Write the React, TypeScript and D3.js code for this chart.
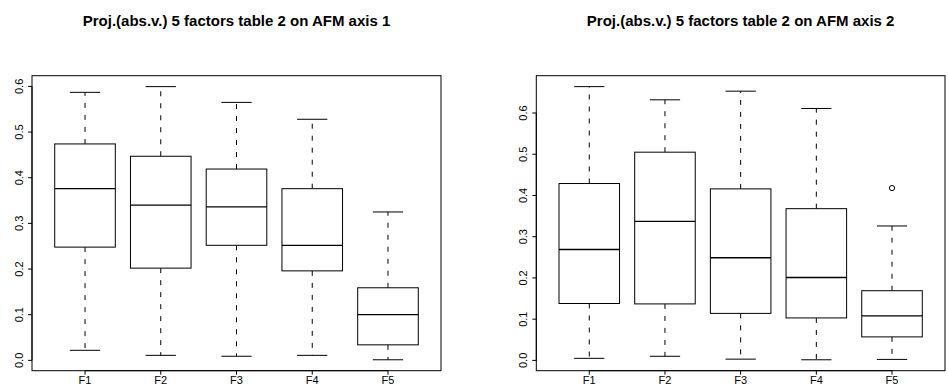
import React, { useEffect, useRef } from 'react';
import * as d3 from 'd3';

// categories (factors)
const factors = ['F1', 'F2', 'F3', 'F4', 'F5'];

// axis 1 : box statistics
const ax1Lower = [0.022, 0.011, 0.009, 0.011, 0.0013];
const ax1Q1 = [0.248, 0.202, 0.252, 0.196, 0.034];
const ax1Median = [0.376, 0.340, 0.336, 0.252, 0.100];
const ax1Q3 = [0.474, 0.447, 0.419, 0.376, 0.159];
const ax1Upper = [0.587, 0.5995, 0.565, 0.528, 0.325];
const ax1Outliers: [number, number][] = [];

// axis 2
const ax2Lower = [0.005, 0.010, 0.003, 0.0015, 0.0024];
const ax2Q1 = [0.138, 0.137, 0.114, 0.103, 0.057];
const ax2Median = [0.269, 0.337, 0.249, 0.201, 0.108];
const ax2Q3 = [0.429, 0.505, 0.416, 0.368, 0.169];
const ax2Upper = [0.664, 0.632, 0.653, 0.611, 0.326];
const ax2Outliers: [number, number][] = [[4, 0.418]];

const yTicks = [0, 0.1, 0.2, 0.3, 0.4, 0.5, 0.6];
const yTickLabels = ['0.0', '0.1', '0.2', '0.3', '0.4', '0.5', '0.6'];

const titles = [
  'Proj.(abs.v.) 5 factors table 2 on AFM axis 1',
  'Proj.(abs.v.) 5 factors table 2 on AFM axis 2',
];

const FONT = '"Liberation Sans", Arial, Helvetica, sans-serif';

function drawPanel(svg, opts) {
  const { left, right, top, bottom, lower, q1, median, q3, upper, outliers, title } = opts;

  // R style ranges: 4% extension on each side
  const all = lower.concat(upper, outliers.map(o => o[1]));
  const lo = d3.min(all), hi = d3.max(all);
  const ext = (hi - lo) * 0.04;
  const y = d3.scaleLinear().domain([lo - ext, hi + ext]).range([bottom, top]);
  const n = factors.length;
  const x = d3.scaleLinear().domain([0.5 - n * 0.04, n + 0.5 + n * 0.04]).range([left, right]);

  const g = svg.append('g');
  const bw = x(1.4) - x(0.6); // boxwex 0.8
  const staple = bw / 2;

  factors.forEach((f, i) => {
    const cx = x(i + 1);
    const b = g.append('g');
    // whiskers
    b.append('line').attr('x1', cx).attr('x2', cx).attr('y1', y(q3[i])).attr('y2', y(upper[i]))
      .attr('stroke', '#000').attr('stroke-dasharray', '5,7');
    b.append('line').attr('x1', cx).attr('x2', cx).attr('y1', y(q1[i])).attr('y2', y(lower[i]))
      .attr('stroke', '#000').attr('stroke-dasharray', '5,7');
    // staples
    b.append('line').attr('x1', cx - staple / 2).attr('x2', cx + staple / 2)
      .attr('y1', y(upper[i])).attr('y2', y(upper[i])).attr('stroke', '#000');
    b.append('line').attr('x1', cx - staple / 2).attr('x2', cx + staple / 2)
      .attr('y1', y(lower[i])).attr('y2', y(lower[i])).attr('stroke', '#000');
    // box
    b.append('rect').attr('x', cx - bw / 2).attr('y', y(q3[i]))
      .attr('width', bw).attr('height', y(q1[i]) - y(q3[i]))
      .attr('fill', 'white').attr('stroke', '#000');
    b.append('line').attr('x1', cx - bw / 2).attr('x2', cx + bw / 2)
      .attr('y1', y(median[i])).attr('y2', y(median[i])).attr('stroke', '#000').attr('stroke-width', 1.3);
  });

  g.selectAll('circle.out').data(outliers).enter().append('circle')
    .attr('class', 'out')
    .attr('cx', d => x(d[0] + 1)).attr('cy', d => y(d[1])).attr('r', 2.6)
    .attr('fill', 'none').attr('stroke', '#000');

  // frame
  g.append('rect').attr('x', left).attr('y', top).attr('width', right - left).attr('height', bottom - top)
    .attr('fill', 'none').attr('stroke', '#000');

  // y axis
  g.append('line').attr('x1', left).attr('x2', left).attr('y1', y(yTicks[0])).attr('y2', y(yTicks[yTicks.length - 1]))
    .attr('stroke', '#000');
  yTicks.forEach((t, i) => {
    g.append('line').attr('x1', left - 4).attr('x2', left).attr('y1', y(t)).attr('y2', y(t)).attr('stroke', '#000');
    g.append('text')
      .attr('transform', `translate(${left - 9},${y(t)}) rotate(-90)`)
      .attr('text-anchor', 'middle')
      .style('font-family', FONT).style('font-size', '11px').style('fill', '#000')
      .text(yTickLabels[i]);
  });

  // x axis
  g.append('line').attr('x1', x(1)).attr('x2', x(n)).attr('y1', bottom).attr('y2', bottom).attr('stroke', '#000');
  factors.forEach((f, i) => {
    g.append('line').attr('x1', x(i + 1)).attr('x2', x(i + 1)).attr('y1', bottom).attr('y2', bottom + 4).attr('stroke', '#000');
    g.append('text').attr('x', x(i + 1)).attr('y', bottom + 13.5)
      .attr('text-anchor', 'middle')
      .style('font-family', FONT).style('font-size', '11px').style('fill', '#000')
      .text(f);
  });

  // title
  g.append('text').attr('x', (left + right) / 2).attr('y', 26)
    .attr('text-anchor', 'middle')
    .style('font-family', FONT).style('font-size', '15px').style('font-weight', 'bold').style('fill', '#000')
    .text(title);
}

export default function App() {
  const ref = useRef(null);

  useEffect(() => {
    const svg = d3.select(ref.current);
    svg.selectAll('*').remove();

    drawPanel(svg, {
      left: 32, right: 441, top: 75.7, bottom: 370.7,
      lower: ax1Lower, q1: ax1Q1, median: ax1Median, q3: ax1Q3, upper: ax1Upper,
      outliers: ax1Outliers, title: titles[0],
    });
    drawPanel(svg, {
      left: 536.3, right: 945, top: 75.7, bottom: 370.7,
      lower: ax2Lower, q1: ax2Q1, median: ax2Median, q3: ax2Q3, upper: ax2Upper,
      outliers: ax2Outliers, title: titles[1],
    });
  }, []);

  return (
    <div style={{ position: 'absolute', left: 0, top: 0 }}>
      <svg ref={ref} width={948} height={390} style={{ display: 'block', background: 'white' }} />
    </div>
  );
}
